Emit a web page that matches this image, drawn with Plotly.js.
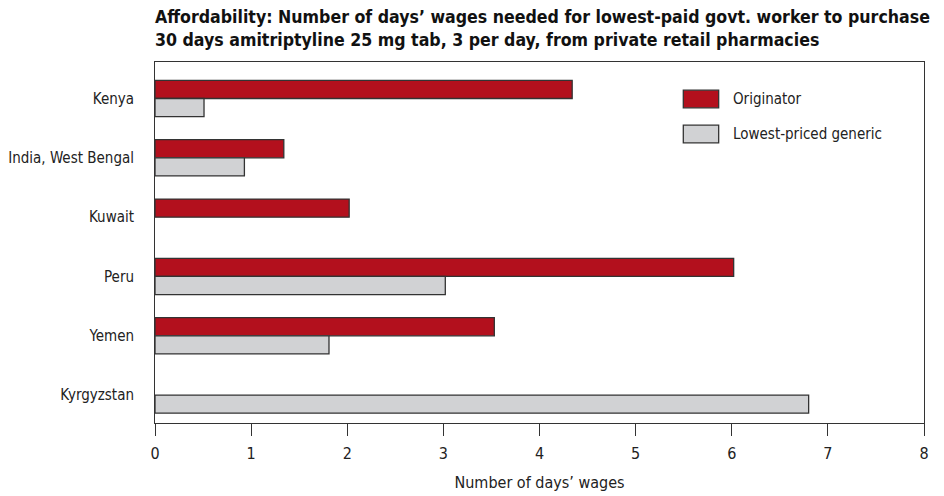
<!DOCTYPE html>
<html>
<head>
<meta charset="utf-8">
<script src="https://cdn.plot.ly/plotly-3.0.1.min.js"></script>
<style>html,body{margin:0;padding:0;background:#fff;}#chart{width:944px;height:496px;}</style>
</head>
<body>
<div id="chart"></div>
<script>
const countries = ["Kenya", "India, West Bengal", "Kuwait", "Peru", "Yemen", "Kyrgyzstan"];
const originator = [4.34, 1.34, 2.02, 6.02, 3.53, null];
const generic = [0.51, 0.93, null, 3.02, 1.81, 6.80];
const seriesNames = ["Originator", "Lowest-priced generic"];
const xTicks = [0, 1, 2, 3, 4, 5, 6, 7, 8];

const FONT = '"DejaVu Sans Condensed", "Liberation Sans", Arial, sans-serif';
const RED = '#B3101D';
const GREY = '#D1D2D4';
const EDGE = '#333333';

const traces = [
  {type: 'bar', orientation: 'h', name: seriesNames[0], y: countries, x: originator,
   marker: {color: RED, line: {color: EDGE, width: 1.3}}, hoverinfo: 'x+y'},
  {type: 'bar', orientation: 'h', name: seriesNames[1], y: countries, x: generic,
   marker: {color: GREY, line: {color: EDGE, width: 1.3}}, hoverinfo: 'x+y'}
];

const layout = {
  width: 944, height: 496,
  margin: {l: 155, r: 20, t: 62, b: 73},
  paper_bgcolor: '#fff', plot_bgcolor: '#fff',
  showlegend: false,
  barmode: 'group', bargap: 0.39, bargroupgap: 0,
  font: {family: FONT, color: '#222', size: 14},
  title: {
    text: 'Affordability: Number of days’ wages needed for lowest-paid govt. worker to purchase<br>30 days amitriptyline 25 mg tab, 3 per day, from private retail pharmacies',
    font: {family: FONT, size: 17.6, color: '#111', weight: 'bold'},
    xref: 'container', x: 155/944, xanchor: 'left',
    yref: 'container', y: 0.954, yanchor: 'middle'
  },
  xaxis: {
    range: [0, 8], tickvals: xTicks, ticktext: xTicks.map(String),
    showgrid: false, zeroline: false,
    ticks: 'outside', ticklen: 12, tickwidth: 1, tickcolor: EDGE,
    showline: true, linecolor: EDGE, linewidth: 1, mirror: true,
    tickfont: {family: FONT, size: 16, color: '#222'},
    ticklabelstandoff: 4,
    title: {text: 'Number of days’ wages', font: {family: FONT, size: 16, color: '#222'}, standoff: 14}
  },
  yaxis: {
    type: 'category', range: [5.47, -0.615],
    showgrid: false, zeroline: false, ticks: '',
    showline: true, linecolor: EDGE, linewidth: 1, mirror: true,
    tickfont: {family: FONT, size: 15, color: '#222'},
    ticklabelstandoff: 17
  },
  shapes: [
    {type: 'rect', xref: 'paper', yref: 'paper', x0: 0.687, x1: 0.733, y0: 0.873, y1: 0.922,
     fillcolor: RED, line: {color: EDGE, width: 1.3}},
    {type: 'rect', xref: 'paper', yref: 'paper', x0: 0.687, x1: 0.733, y0: 0.776, y1: 0.825,
     fillcolor: GREY, line: {color: EDGE, width: 1.3}}
  ],
  annotations: [
    {xref: 'paper', yref: 'paper', x: 0.749, y: 0.898, xanchor: 'left', yanchor: 'middle',
     text: seriesNames[0], showarrow: false, font: {family: FONT, size: 15, color: '#222'}},
    {xref: 'paper', yref: 'paper', x: 0.749, y: 0.80, xanchor: 'left', yanchor: 'middle',
     text: seriesNames[1], showarrow: false, font: {family: FONT, size: 15, color: '#222'}}
  ]
};

Plotly.newPlot('chart', traces, layout, {displayModeBar: false, staticPlot: true});
</script>
</body>
</html>
